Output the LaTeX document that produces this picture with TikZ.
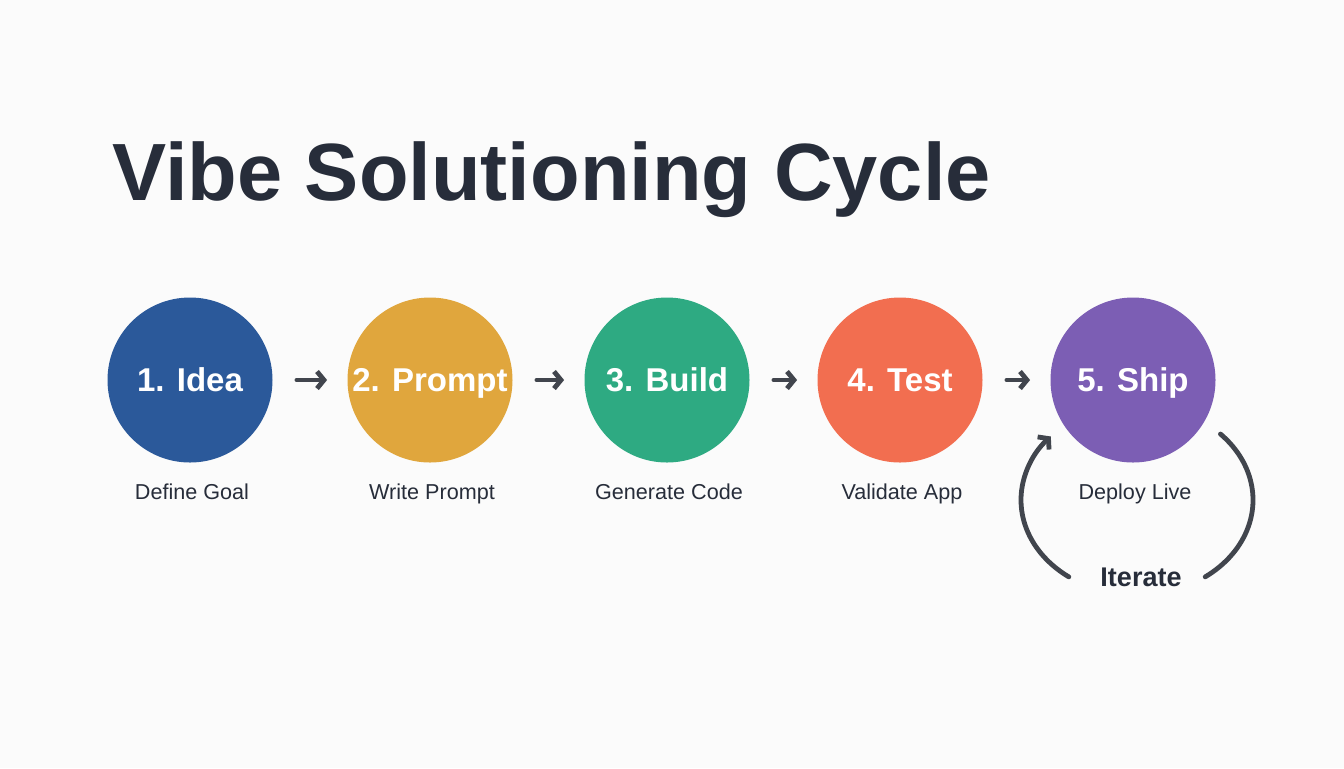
\documentclass[tikz,border=0pt]{standalone}
\usepackage{fontspec}
\setmainfont{Liberation Sans}
\usetikzlibrary{arrows.meta,calc}
\definecolor{paper}{HTML}{FBFBFB}
\definecolor{ink}{HTML}{272D3A}
\definecolor{arrowgray}{HTML}{41454D}
\definecolor{cBlue}{HTML}{2B599A}
\definecolor{cOrange}{HTML}{E0A63D}
\definecolor{cGreen}{HTML}{2EAA82}
\definecolor{cCoral}{HTML}{F26E50}
\definecolor{cPurple}{HTML}{7C5EB4}
\tikzset{
  stage/.style={circle, minimum size=82.5pt, inner sep=0pt, text=white,
    text height=11.8pt, text depth=0pt,
    font=\fontsize{16.5}{20}\selectfont\bfseries},
  caption/.style={text=ink, text height=7.8pt, text depth=0pt,
    font=\fontsize{10.8}{13}\selectfont},
  flow/.style={->, arrowgray, line width=2.4pt, line cap=round, line join=round},
}
\begin{document}
\begin{tikzpicture}[x=0.5pt,y=-0.5pt,>={Straight Barb[length=3.5pt,width=8.5pt]}]
    \fill[paper] (0,0) rectangle (1344,768);
    \useasboundingbox (0,0) rectangle (1344,768);

    % Title
    \node[anchor=base west, inner sep=0pt, text=ink, font=\fontsize{40.6}{48}\selectfont\bfseries] (title) at (112,200) {Vibe Solutioning Cycle};

    % Stages
    \foreach \i/\x/\col/\lab/\sub in {1/190/cBlue/Idea/Define Goal, 2/430/cOrange/Prompt/Write Prompt,
        3/667/cGreen/Build/Generate Code, 4/900/cCoral/Test/Validate App, 5/1133/cPurple/Ship/Deploy Live} {
        \node[stage, fill=\col] (c\i) at (\x,380) {\i. \lab};
        \node[caption] (s\i) at (\x+2,492) {\sub};
    }
    \foreach \a/\b in {1/2, 2/3, 3/4, 4/5} {
        \draw[flow, shorten <=12pt, shorten >=10pt] (c\a) -- (c\b);
    }

    % Iterate loop
    \coordinate (loop) at (1137,500);
    \draw[flow, -] ($(loop)+(-44:116 and 95)$) arc[start angle=-44, end angle=54, x radius=116, y radius=95];
    \draw[flow] ($(loop)+(126:116 and 95)$) arc[start angle=126, end angle=222, x radius=116, y radius=95];
    \node[text=ink, text height=9.7pt, text depth=0pt, font=\fontsize{13.5}{16}\selectfont\bfseries] (iter) at (1141,577) {Iterate};
\end{tikzpicture}
\end{document}
